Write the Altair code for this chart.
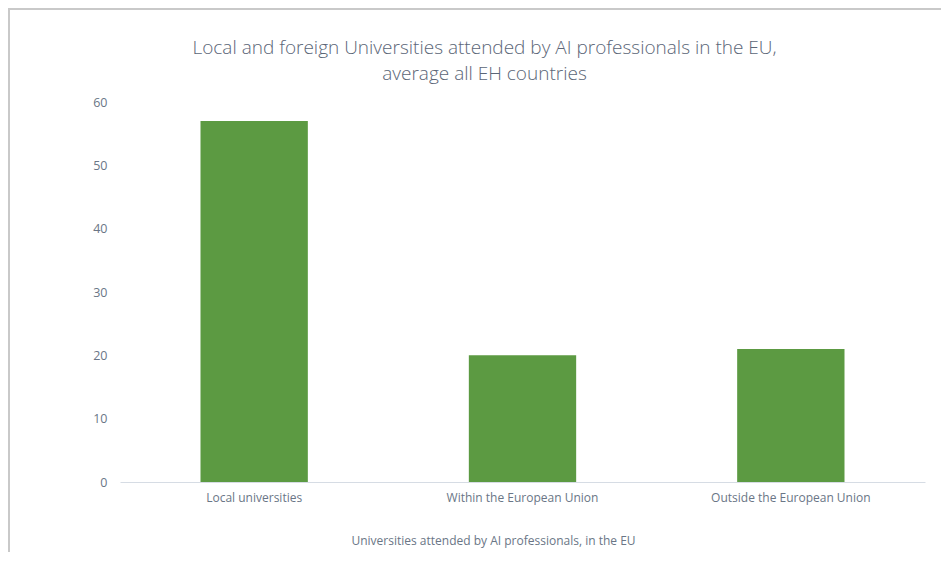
import altair as alt
import pandas as pd

categories = ["Local universities", "Within the European Union", "Outside the European Union"]
values = [57, 20, 21]

df = pd.DataFrame({"cat": categories, "val": values})

FONT = "Open Sans"
W, H = 805, 380

frame = alt.Chart(pd.DataFrame({"d": [0]})).mark_rect(
    fill="white", stroke="#c9c9c9", strokeWidth=2
).encode(
    x=alt.value(-111), x2=alt.value(W + 60),
    y=alt.value(-93), y2=alt.value(H + 120),
)

bars = alt.Chart(df).mark_bar(color="#5c9a42").encode(
    x=alt.X("cat:N", sort=categories,
            scale=alt.Scale(paddingInner=0.6, paddingOuter=0.3),
            axis=alt.Axis(title="Universities attended by AI professionals, in the EU",
                          labelAngle=0, ticks=False, domainColor="#d6dce4",
                          labelPadding=10, labelFontSize=12, labelColor="#6a7686",
                          labelFont=FONT, titleFont=FONT, titleFontSize=12,
                          titleFontWeight="normal", titleColor="#6a7686",
                          titlePadding=32, titleX=373, zindex=1)),
    y=alt.Y("val:Q", scale=alt.Scale(domain=[0, 60]),
            axis=alt.Axis(title=None, values=[0, 10, 20, 30, 40, 50, 60],
                          domain=False, ticks=False, grid=False,
                          labelPadding=13, labelFontSize=12.5, labelColor="#6a7686",
                          labelFont=FONT, zindex=1)),
)

chart = alt.layer(frame, bars).properties(
    width=W, height=H,
    autosize=alt.AutoSizeParams(type="none"),
    padding={"left": 112, "top": 94, "right": 16, "bottom": 70},
    background="#f8f7f3",
    title=alt.TitleParams(
        text=["Local and foreign Universities attended by AI professionals in the EU,",
              "average all EH countries"],
        anchor="middle", frame="group", dx=-38, dy=76, offset=0,
        font=FONT, fontSize=19, fontWeight=300, color="#5b6677", lineHeight=26,
        zindex=1,
    ),
).configure_view(stroke=None)

chart.save("out.html", embed_options={"renderer": "svg", "actions": False})
